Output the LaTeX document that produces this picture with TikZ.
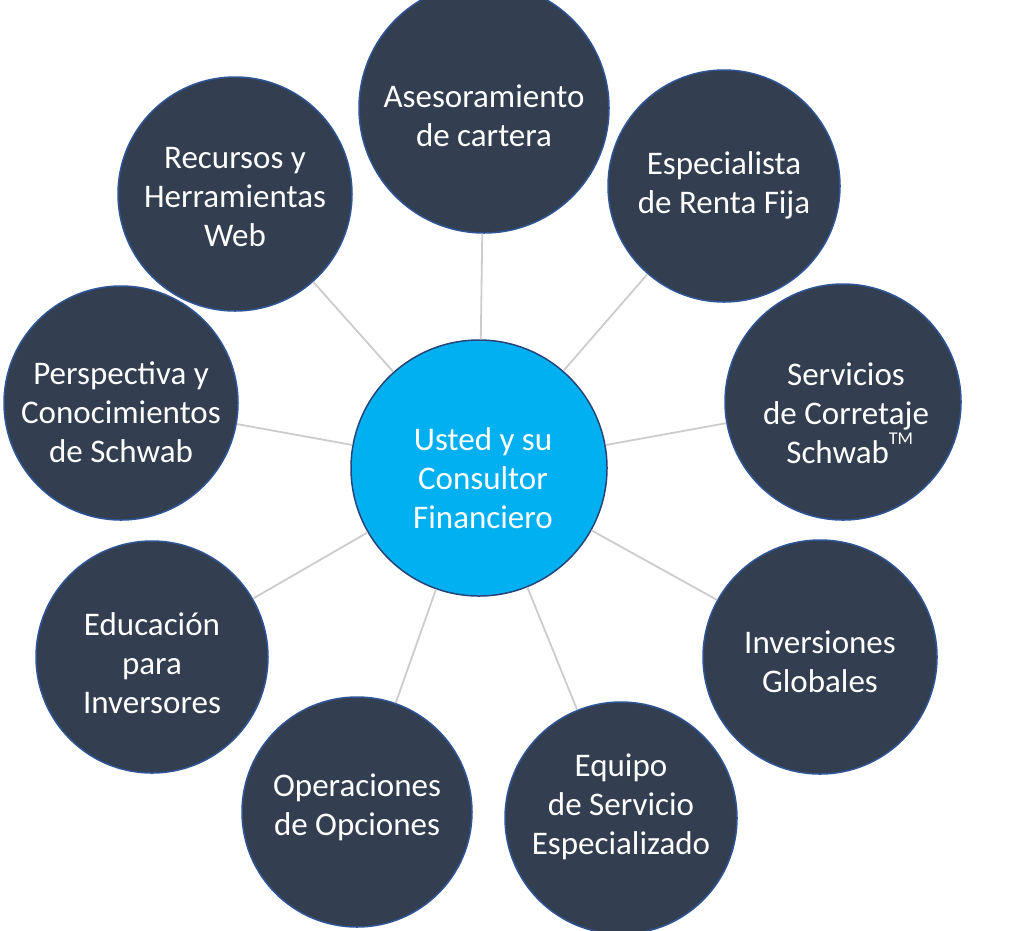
\documentclass[tikz,border=0pt]{standalone}
\usepackage{fontspec}
\setmainfont{Carlito}
\definecolor{slate}{HTML}{333F50}
\definecolor{rim}{HTML}{2F5597}
\definecolor{sky}{HTML}{00B0F0}
\definecolor{spoke}{HTML}{CCCCCC}
\newcommand{\tmark}{\raisebox{1.2ex}{\fontsize{18}{18}\selectfont TM}}
\tikzset{
  outer/.style={circle, fill=slate, draw=rim, line width=1.5pt, inner sep=0pt},
  hub/.style={circle, fill=sky, draw=rim!80!black, line width=1.5pt, inner sep=0pt},
  lbl/.style={text=white, align=center, font=\fontsize{33}{39}\selectfont},
  link/.style={spoke, line width=1.8pt}
}
\begin{document}
\begin{tikzpicture}[x=1pt,y=-1pt]
\useasboundingbox (0,0) rectangle (1024,930);
\clip (0,0) rectangle (1024,930);

% circles
\node[hub, minimum size=256pt] (you) at (479,468) {};
\node[outer, minimum size=250pt] (ases) at (484,108) {};
\node[outer, minimum size=232pt] (renta) at (724,186) {};
\node[outer, minimum size=236pt] (corre) at (843,402) {};
\node[outer, minimum size=234pt] (glob) at (820,657) {};
\node[outer, minimum size=232pt] (equipo) at (621,818) {};
\node[outer, minimum size=230pt] (opci) at (357,812) {};
\node[outer, minimum size=232pt] (edu) at (152,657) {};
\node[outer, minimum size=234pt] (persp) at (121,403) {};
\node[outer, minimum size=234pt] (recur) at (235,194) {};

% spokes
\foreach \n in {ases,renta,corre,glob,equipo,opci,edu,persp,recur}{
\draw[link] (you) -- (\n);
}

% texts
\node[lbl] (youT) at (483,478) {Usted y su\\Consultor\\Financiero};
\node[lbl] (asesT) at (484,116) {Asesoramiento\\de cartera};
\node[lbl] (rentaT) at (724,185) {Especialista\\de Renta Fija};
\node[lbl] (correT) at (846,413) {Servicios\\de Corretaje\\\ Schwab\tmark};
\node[lbl] (globT) at (820,662) {Inversiones\\Globales};
\node[lbl] (equipoT) at (621,807) {Equipo\\de Servicio\\Especializado};
\node[lbl] (opciT) at (357,807) {Operaciones\\de Opciones};
\node[lbl] (eduT) at (152,663) {Educación\\para\\Inversores};
\node[lbl] (perspT) at (121,412) {Perspectiva y\\Conocimientos\\de Schwab};
\node[lbl] (recurT) at (235,197) {Recursos y\\Herramientas\\Web};
\end{tikzpicture}
\end{document}
